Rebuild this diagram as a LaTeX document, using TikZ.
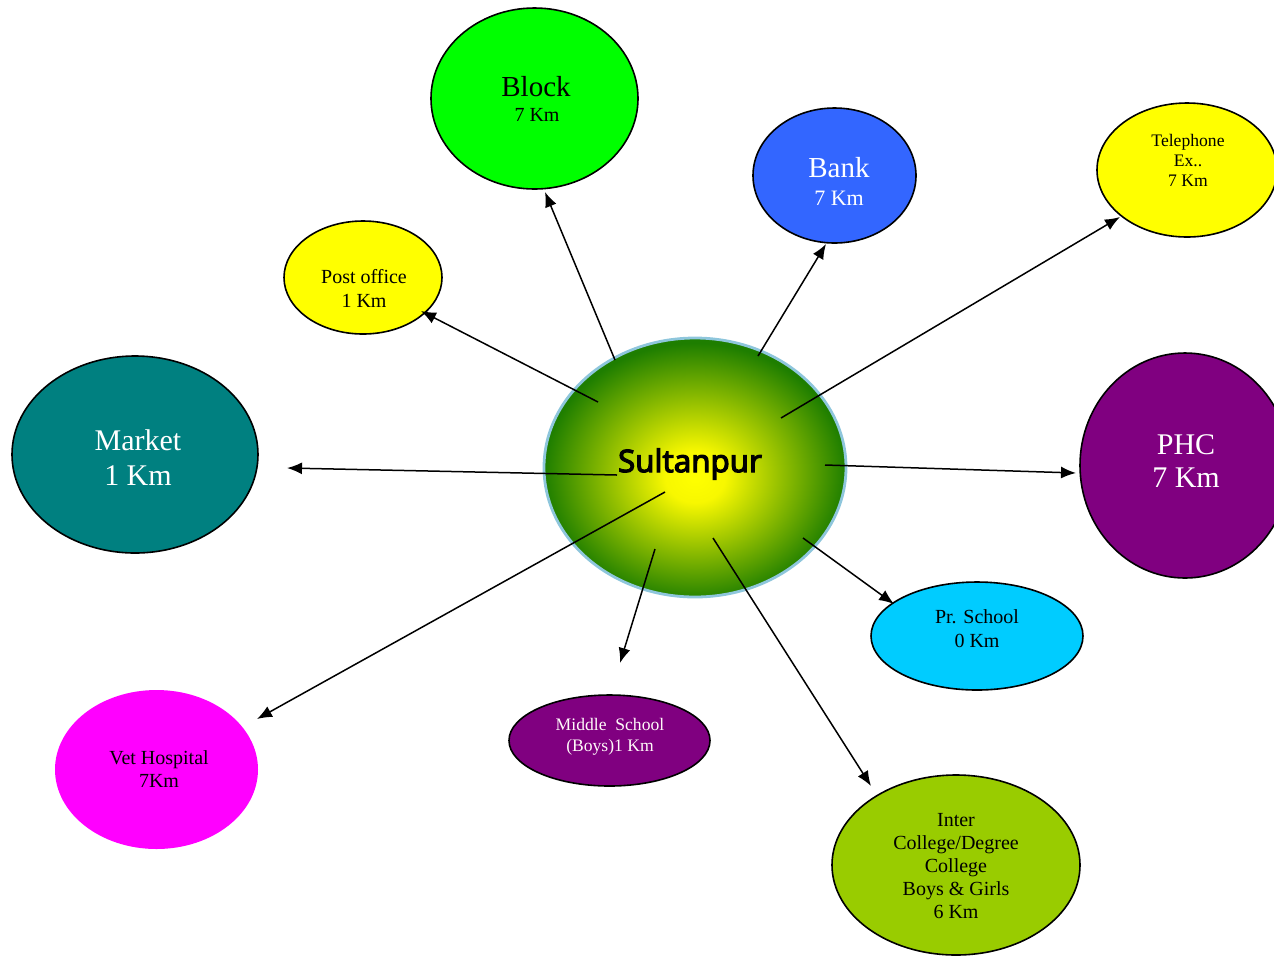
\documentclass[tikz,border=0pt]{standalone}
\usepackage{fontspec}
\setmainfont{Liberation Serif}
\newfontfamily\sultfont{Noto Sans}[AutoFakeBold=3.5]
\usetikzlibrary{shapes.geometric,arrows.meta}
\definecolor{blockgreen}{HTML}{00FF00}
\definecolor{bankblue}{HTML}{3366FF}
\definecolor{telyellow}{HTML}{FFFF00}
\definecolor{marketteal}{HTML}{008080}
\definecolor{phcpurple}{HTML}{800080}
\definecolor{prcyan}{HTML}{00CCFF}
\definecolor{vetmag}{HTML}{FF00FF}
\definecolor{intergreen}{HTML}{99CC00}
\definecolor{sultedge}{HTML}{1E7E00}
\definecolor{sultborder}{HTML}{8EC6DC}
\pgfdeclareradialshading{sultshade}{\pgfpoint{0bp}{-2bp}}{color(0bp)=(yellow); color(5bp)=(yellow!97!black); color(25bp)=(sultedge); color(50bp)=(sultedge)}
\tikzset{
  bubble/.style={ellipse, draw=black, line width=0.8pt, inner sep=0pt},
  lbl/.style={align=center, inner sep=0pt},
  conn/.style={line width=0.75pt, -{Latex[length=7.5pt,width=6pt]}},
}
\begin{document}
\begin{tikzpicture}[x=0.5pt,y=-0.5pt]
\useasboundingbox (0,0) rectangle (1274,955);
% bubbles
\node[bubble, fill=blockgreen, minimum width=103.5pt, minimum height=90.5pt] (block) at (534.5,98.5) {};
\node[bubble, fill=bankblue, minimum width=81.5pt, minimum height=67.5pt] (bank) at (834.5,175.5) {};
\node[bubble, fill=telyellow, minimum width=90pt, minimum height=67pt] (tel) at (1187,170) {};
\node[bubble, fill=telyellow, minimum width=79pt, minimum height=56.5pt] (post) at (363,277.5) {};
\node[bubble, fill=marketteal, minimum width=123pt, minimum height=98.5pt] (market) at (135,454.5) {};
\node[bubble, fill=phcpurple, minimum width=105pt, minimum height=112.5pt] (phc) at (1185,465.5) {};
\node[bubble, fill=prcyan, minimum width=106pt, minimum height=54pt] (pr) at (977,636) {};
\node[bubble, fill=phcpurple, minimum width=100.5pt, minimum height=45.5pt] (mid) at (609.5,740.5) {};
\node[ellipse, inner sep=0pt, fill=vetmag, minimum width=101.5pt, minimum height=79.5pt] (vet) at (156.5,769.5) {};
\node[bubble, fill=intergreen, minimum width=124pt, minimum height=90pt] (inter) at (956,865) {};
\node[ellipse, inner sep=0pt, draw=sultborder, line width=1.4pt, shading=sultshade, minimum width=151pt, minimum height=129.5pt] (sult) at (695,467.5) {};
% labels
\node[lbl, font=\fontsize{14.5}{17}\selectfont] (blockt) at (536,87) {Block};
\node[lbl, font=\fontsize{10}{12}\selectfont] (blockk) at (537,115) {7 Km};
\node[lbl, text=white, font=\fontsize{14.5}{17}\selectfont] (bankt) at (839,168) {Bank};
\node[lbl, text=white, font=\fontsize{11}{13}\selectfont] (bankk) at (839,198) {7 Km};
\node[lbl, font=\fontsize{8.8}{10}\selectfont] (telt) at (1188,160) {Telephone\\Ex..\\7 Km};
\node[lbl, font=\fontsize{10}{11.7}\selectfont] (postt) at (364,288.5) {Post office\\1 Km};
\node[lbl, text=white, font=\fontsize{15}{17.5}\selectfont] (markett) at (138,458) {Market\\1 Km};
\node[lbl, text=white, font=\fontsize{15}{16.5}\selectfont] (phct) at (1186,461) {PHC\\7 Km};
\node[lbl, font=\fontsize{10}{12}\selectfont] (prt) at (977,628.5) {Pr. School\\0 Km};
\node[lbl, text=white!90!pink, font=\fontsize{8.8}{10.5}\selectfont] (midt) at (610,737) {Middle\ \ School\\(Boys)1 Km};
\node[lbl, font=\fontsize{10}{11.5}\selectfont] (vett) at (159,769) {Vet Hospital\\7Km};
\node[lbl, font=\fontsize{10}{11.5}\selectfont] (intert) at (956,866.5) {Inter\\College/Degree\\College\\Boys \& Girls\\6 Km};
\node[lbl, font=\sultfont\bfseries\fontsize{15.6}{18}\selectfont] (sultt) at (690,464) {Sultanpur};
% connector end points
\coordinate (sBlock) at (615,360); \coordinate (eBlock) at (545,192);
\coordinate (sBank) at (758,356); \coordinate (eBank) at (826,244);
\coordinate (sTel) at (781,418); \coordinate (eTel) at (1120,217);
\coordinate (sPost) at (598,402); \coordinate (ePost) at (421,311);
\coordinate (sMarket) at (617,475); \coordinate (eMarket) at (287,468);
\coordinate (sPhc) at (825,465); \coordinate (ePhc) at (1076,473);
\coordinate (sPr) at (803,538); \coordinate (ePr) at (894,604);
\coordinate (sMid) at (655,549); \coordinate (eMid) at (620,663);
\coordinate (sVet) at (665,492); \coordinate (eVet) at (257,719);
\coordinate (sInter) at (713,538); \coordinate (eInter) at (871,786);
% connectors
\draw[conn] (sBlock) -- (eBlock);
\draw[conn] (sBank) -- (eBank);
\draw[conn] (sTel) -- (eTel);
\draw[conn] (sPost) -- (ePost);
\draw[conn] (sMarket) -- (eMarket);
\draw[conn] (sPhc) -- (ePhc);
\draw[conn] (sPr) -- (ePr);
\draw[conn] (sMid) -- (eMid);
\draw[conn] (sVet) -- (eVet);
\draw[conn] (sInter) -- (eInter);
\end{tikzpicture}
\end{document}
